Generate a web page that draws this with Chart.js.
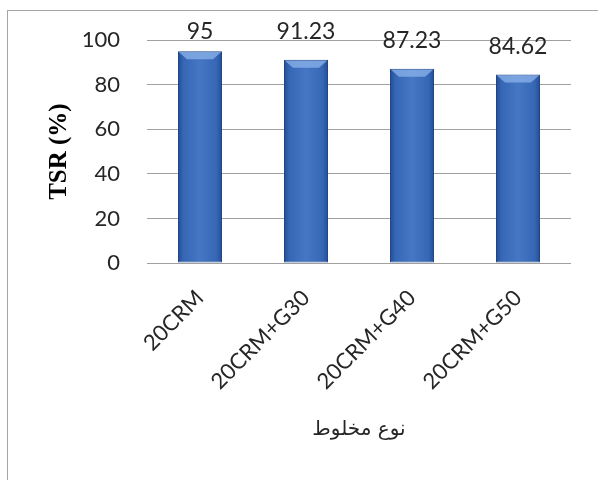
<!DOCTYPE html>
<html>
<head>
<meta charset="utf-8">
<script src="https://cdn.jsdelivr.net/npm/chart.js@4/dist/chart.umd.min.js"></script>
<style>
  html, body { margin: 0; padding: 0; background: #fff; overflow: hidden; }
  #wrap { position: relative; width: 598px; height: 480px; }
  #frame { position: absolute; left: 7px; top: 10px; width: 640px; height: 520px; border: 1px solid #a6a6a6; box-sizing: border-box; }
  canvas { position: absolute; left: 0; top: 0; }
</style>
</head>
<body>
<div id="wrap">
  <div id="frame"></div>
  <canvas id="c" width="598" height="480"></canvas>
</div>
<script>
const categories = ["20CRM", "20CRM+G30", "20CRM+G40", "20CRM+G50"];
const tsrValues = [95, 91.23, 87.23, 84.62];
const valueLabels = ["95", "91.23", "87.23", "84.62"];
const yTitle = "TSR (%)";
const xTitle = "نوع مخلوط";

function barGradient(ctx) {
  const chart = ctx.chart;
  const xs = chart.scales && chart.scales.x;
  if (!chart.chartArea || !xs || ctx.dataIndex === undefined) return '#3d6fbf';
  const cx = xs.getPixelForValue(ctx.dataIndex);
  const half = xs.width / categories.length * 0.415 / 2;
  if (!Number.isFinite(cx) || !Number.isFinite(half) || half <= 0) return '#3d6fbf';
  const g = chart.ctx.createLinearGradient(cx - half, 0, cx + half, 0);
  g.addColorStop(0, '#234c93');
  g.addColorStop(0.12, '#3667b5');
  g.addColorStop(0.5, '#4677c4');
  g.addColorStop(0.88, '#3667b5');
  g.addColorStop(1, '#234c93');
  return g;
}

const valueLabelPlugin = {
  id: 'valueLabels',
  afterDatasetsDraw(chart) {
    const ctx = chart.ctx;
    const meta = chart.getDatasetMeta(0);
    ctx.save();
    ctx.font = '23px Lato';
    ctx.fillStyle = '#262626';
    ctx.textAlign = 'center';
    ctx.textBaseline = 'middle';
    meta.data.forEach((bar, i) => {
      let y = bar.y - 28;
      if (y < 32) y = 32;
      ctx.fillText(valueLabels[i], bar.x, y);
    });
    ctx.restore();
  }
};

const bevelPlugin = {
  id: 'bevel',
  afterDatasetsDraw(chart) {
    const ctx = chart.ctx;
    const meta = chart.getDatasetMeta(0);
    ctx.save();
    meta.data.forEach((bar) => {
      const half = bar.width / 2;
      const l = bar.x - half, r = bar.x + half, t = bar.y;
      ctx.beginPath();
      ctx.moveTo(l + 1, t + 1);
      ctx.lineTo(r - 1, t + 1);
      ctx.lineTo(r - 9, t + 8);
      ctx.lineTo(l + 9, t + 8);
      ctx.closePath();
      ctx.fillStyle = 'rgba(140,180,235,0.75)';
      ctx.fill();
    });
    ctx.restore();
  }
};

new Chart(document.getElementById('c'), {
  type: 'bar',
  data: {
    labels: categories,
    datasets: [{
      data: tsrValues,
      backgroundColor: barGradient,
      borderColor: '#1f4687',
      borderWidth: 1,
      borderSkipped: false,
      barPercentage: 0.415,
      categoryPercentage: 1.0
    }]
  },
  options: {
    responsive: false,
    animation: false,
    devicePixelRatio: 1,
    layout: { padding: { left: 40, right: 27, top: 40, bottom: 20 } },
    plugins: { legend: { display: false }, tooltip: { enabled: false } },
    scales: {
      x: {
        grid: { display: false, drawTicks: false },
        border: { display: false },
        ticks: {
          font: { family: 'Lato', size: 22 },
          color: '#262626',
          minRotation: 45,
          maxRotation: 45,
          padding: 22,
          autoSkip: false
        },
        title: {
          display: true,
          text: xTitle,
          font: { family: 'DejaVu Sans', size: 20 },
          color: '#262626',
          padding: { top: 18, bottom: 18 }
        },
        afterFit(scale) { scale.height = 197; }
      },
      y: {
        min: 0,
        max: 100,
        grid: { color: '#a0a0a0', lineWidth: 1, drawTicks: false },
        border: { display: false },
        ticks: {
          stepSize: 20,
          font: { family: 'Lato', size: 22 },
          color: '#262626',
          padding: 27
        },
        title: {
          display: true,
          text: yTitle,
          font: { family: 'Liberation Serif', size: 25, weight: 'bold' },
          color: '#000',
          padding: { top: 5, bottom: 5 }
        },
        afterFit(scale) { scale.width = 107; }
      }
    }
  },
  plugins: [bevelPlugin, valueLabelPlugin]
});
</script>
</body>
</html>
